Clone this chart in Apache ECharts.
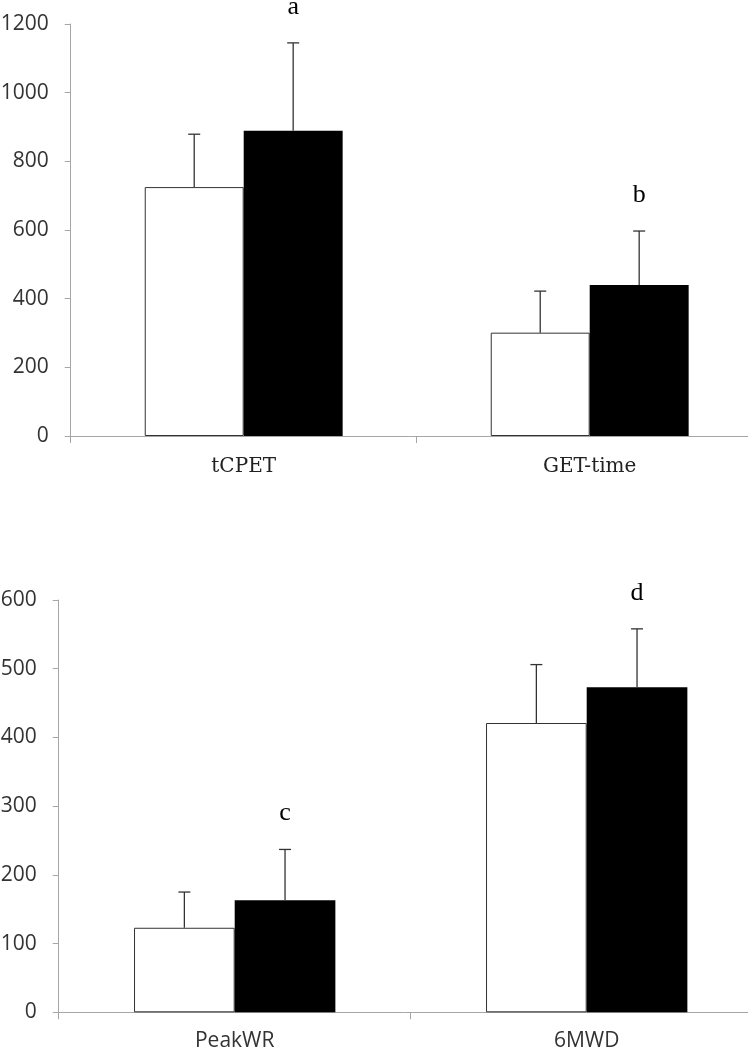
<!DOCTYPE html>
<html>
<head>
<meta charset="utf-8">
<script src="https://cdn.jsdelivr.net/npm/echarts@6/dist/echarts.min.js"></script>
<style>
html,body{margin:0;padding:0;background:#fff;}
#chart{width:748px;height:1050px;}
</style>
</head>
<body>
<div id="chart"></div>
<script>
// ---- data ----
const categoriesTop = ['tCPET', 'GET-time'];
const whiteTop = [725, 301];
const whiteTopSD = [154, 121];
const blackTop = [889, 440];
const blackTopSD = [256, 157];
const sigTop = ['a', 'b'];
const yMaxTop = 1200, yStepTop = 200;

const categoriesBottom = ['PeakWR', '6MWD'];
const whiteBottom = [123, 421];
const whiteBottomSD = [52, 85];
const blackBottom = [163, 473];
const blackBottomSD = [74, 85];
const sigBottom = ['c', 'd'];
const yMaxBottom = 600, yStepBottom = 100;

// ---- styles ----
const axisGray = '#a6a6a6';
const textGray = '#333333';
const barFrac = 0.286;

function errData(vals, sds) {
  return vals.map((v, i) => [i, v, sds[i]]);
}

function errSeries(gridIdx, vals, sds, sign, letters) {
  return {
    type: 'custom',
    xAxisIndex: gridIdx, yAxisIndex: gridIdx,
    z: 5,
    clip: false,
    data: errData(vals, sds),
    renderItem: function (params, api) {
      const idx = api.value(0), mean = api.value(1), sd = api.value(2);
      const base = api.coord([idx, mean]);
      const top = api.coord([idx, mean + sd]);
      const bw = api.size([1, 0])[0];
      const x = base[0] + sign * bw * barFrac / 2;
      const st = { stroke: '#333', lineWidth: 1.3 };
      const children = [
        { type: 'line', shape: { x1: x, y1: base[1], x2: x, y2: top[1] }, style: st },
        { type: 'line', shape: { x1: x - 6, y1: top[1], x2: x + 6, y2: top[1] }, style: st }
      ];
      if (letters) {
        children.push({
          type: 'text',
          style: {
            text: letters[params.dataIndex], x: x, y: top[1] - 36,
            align: 'center', verticalAlign: 'middle',
            font: '26px "Liberation Serif", "Times New Roman", serif',
            fill: '#000'
          }
        });
      }
      return { type: 'group', children: children };
    }
  };
}

function barSeries(gridIdx, vals, color) {
  return {
    type: 'bar',
    xAxisIndex: gridIdx, yAxisIndex: gridIdx,
    barWidth: (barFrac * 100) + '%',
    barGap: '0%',
    data: vals,
    itemStyle: { color: color, borderColor: '#333', borderWidth: color === '#fff' ? 1 : 0 },
    silent: true
  };
}

function xAxis(gridIdx, cats, labelFont, labelColor, labelSize, margin) {
  return {
    type: 'category', gridIndex: gridIdx, data: cats,
    axisLine: { show: true, lineStyle: { color: axisGray, width: 1 } },
    axisTick: { show: true, length: 7, lineStyle: { color: axisGray } },
    axisLabel: { fontFamily: labelFont, fontSize: labelSize, color: labelColor, margin: margin }
  };
}

function yAxis(gridIdx, max, step) {
  return {
    type: 'value', gridIndex: gridIdx, min: 0, max: max, interval: step,
    axisLine: { show: true, lineStyle: { color: axisGray, width: 1 } },
    axisTick: { show: true, length: 6, lineStyle: { color: axisGray } },
    splitLine: { show: false },
    axisLabel: {
      fontFamily: 'Open Sans', fontSize: 21, color: textGray, margin: 22,
      formatter: function (v) { return String(v); }
    }
  };
}

const chart = echarts.init(document.getElementById('chart'));
chart.setOption({
  animation: false,
  backgroundColor: '#fff',
  grid: [
    { left: 70.7, top: 24, width: 692, height: 412, containLabel: false, outerBoundsMode: 'none' },
    { left: 58.7, top: 600, width: 704, height: 412.3, containLabel: false, outerBoundsMode: 'none' }
  ],
  xAxis: [
    xAxis(0, categoriesTop, '"DejaVu Serif", serif', '#222', 20, 21),
    xAxis(1, categoriesBottom, 'Open Sans', textGray, 21, 18)
  ],
  yAxis: [
    yAxis(0, yMaxTop, yStepTop),
    yAxis(1, yMaxBottom, yStepBottom)
  ],
  series: [
    barSeries(0, whiteTop, '#fff'),
    barSeries(0, blackTop, '#000'),
    errSeries(0, whiteTop, whiteTopSD, -1, null),
    errSeries(0, blackTop, blackTopSD, 1, sigTop),
    barSeries(1, whiteBottom, '#fff'),
    barSeries(1, blackBottom, '#000'),
    errSeries(1, whiteBottom, whiteBottomSD, -1, null),
    errSeries(1, blackBottom, blackBottomSD, 1, sigBottom)
  ]
});
</script>
</body>
</html>
